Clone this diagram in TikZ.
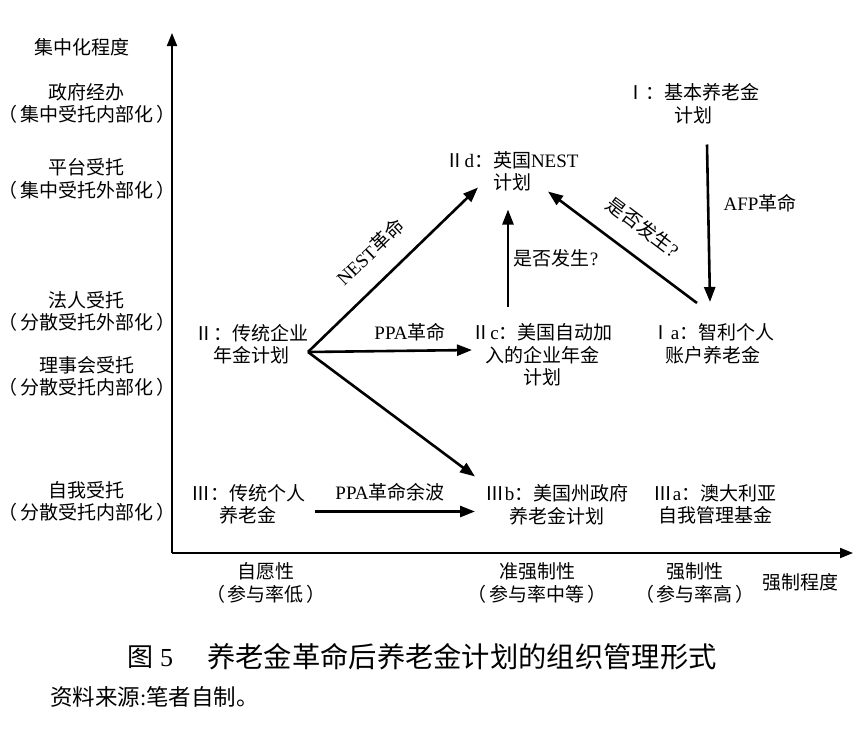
\documentclass[tikz,border=0pt]{standalone}
\usepackage{fontspec}
\setmainfont{Liberation Serif}
\newfontfamily\cjk{Noto Sans CJK SC}
\newcommand{\lat}[1]{{\rmfamily #1}}
\newcommand{\lp}{（\hspace{3pt}}
\newcommand{\rp}{\hspace{3pt}）}
\usetikzlibrary{arrows.meta,calc}
\tikzset{
  lbl/.style={font=\cjk\fontsize{19}{22.5}\selectfont, align=center, inner sep=0pt},
  arr/.style={line width=2.6pt, -{Triangle[length=15pt,width=11pt]}},
  axis/.style={line width=2pt, -{Triangle[length=13pt,width=10pt]}}
}
\begin{document}
\begin{tikzpicture}[x=1pt,y=-1pt]
\useasboundingbox (0,0) rectangle (865,731);
\fill[white] (0,0) rectangle (865,731);

% axes
\coordinate (O) at (172,553);
\coordinate (Ytop) at (172,33);
\coordinate (Xend) at (853,553);
\draw[axis] (O) -- (Ytop);
\draw[axis] (O) -- (Xend);

% vertical axis labels
\node[lbl] (yt) at (82,47) {集中化程度};
\node[lbl] (y1) at (87,103.5) {政府经办\\\lp 集中受托内部化\rp};
\node[lbl] (y2) at (87,179) {平台受托\\\lp 集中受托外部化\rp};
\node[lbl] (y3) at (87,311.5) {法人受托\\\lp 分散受托外部化\rp};
\node[lbl] (y4) at (87,376.5) {理事会受托\\\lp 分散受托内部化\rp};
\node[lbl] (y5) at (87,501.5) {自我受托\\\lp 分散受托内部化\rp};

% horizontal axis labels
\node[lbl] (x1) at (266,583) {自愿性\\\lp 参与率低\rp};
\node[lbl] (x2) at (537,583) {准强制性\\\lp 参与率中等\rp};
\node[lbl] (x3) at (695,583) {强制性\\\lp 参与率高\rp};
\node[lbl] (xt) at (800,582) {强制程度};

% plan nodes
\node[lbl] (I) at (693,103.5) {Ⅰ：基本养老金\\计划};
\node[lbl] (IId) at (512,171.5) {Ⅱ\lat{d}：英国\lat{NEST}\\计划};
\node[lbl] (II) at (251,344) {Ⅱ：传统企业\\年金计划};
\node[lbl] (IIc) at (542,355) {Ⅱ\lat{c}：美国自动加\\入的企业年金\\计划};
\node[lbl] (Ia) at (713,344) {Ⅰ\lat{a}：智利个人\\账户养老金};
\node[lbl] (III) at (248,504.5) {Ⅲ：传统个人\\养老金};
\node[lbl] (IIIb) at (557,504.5) {Ⅲ\lat{b}：美国州政府\\养老金计划};
\node[lbl] (IIIa) at (715,504.5) {Ⅲ\lat{a}：澳大利亚\\自我管理基金};

% connectors
\draw[arr] ($(II)+(57,8)$) -- ($(IId)+(-34,16)$);
\draw[arr] ($(II)+(57,8)$) -- ($(IIc)+(-70,-5)$);
\draw[arr] ($(II)+(57,8)$) -- ($(IIIb)+(-82,-28)$);
\draw[arr] ($(IIc)+(-34,-48)$) -- ($(IId)+(-4,38)$);
\draw[arr] ($(Ia)+(-16,-41)$) -- ($(IId)+(36,20)$);
\draw[arr] ($(I)+(14,41)$) -- ($(Ia)+(-3,-42)$);
\draw[arr] ($(III)+(67,7)$) -- ($(IIIb)+(-82,7)$);

% connector labels
\node[lbl, rotate=44] (l1) at (370,252) {\lat{NEST}革命};
\node[lbl] (l2) at (410,332) {\lat{PPA}革命};
\node[lbl] (l3) at (556,258) {是否发生\lat{?}};
\node[lbl, rotate=-37] (l4) at (643,227) {是否发生\lat{?}};
\node[lbl] (l5) at (760,203) {\lat{AFP}革命};
\node[lbl] (l6) at (390,492) {\lat{PPA}革命余波};

% caption
\node[font=\cjk\fontsize{26}{30}\selectfont, inner sep=0pt, anchor=west] (cap1) at (127,657) {图\hspace{7pt}\lat{5}};
\node[font=\cjk\fontsize{28.3}{32}\selectfont, inner sep=0pt, anchor=west] (cap2) at (207,657) {养老金革命后养老金计划的组织管理形式};
\node[font=\cjk\fontsize{22.5}{26}\selectfont, inner sep=0pt, anchor=west] (src) at (50,697) {资料来源\lat{:}笔者自制。};
\end{tikzpicture}
\end{document}
